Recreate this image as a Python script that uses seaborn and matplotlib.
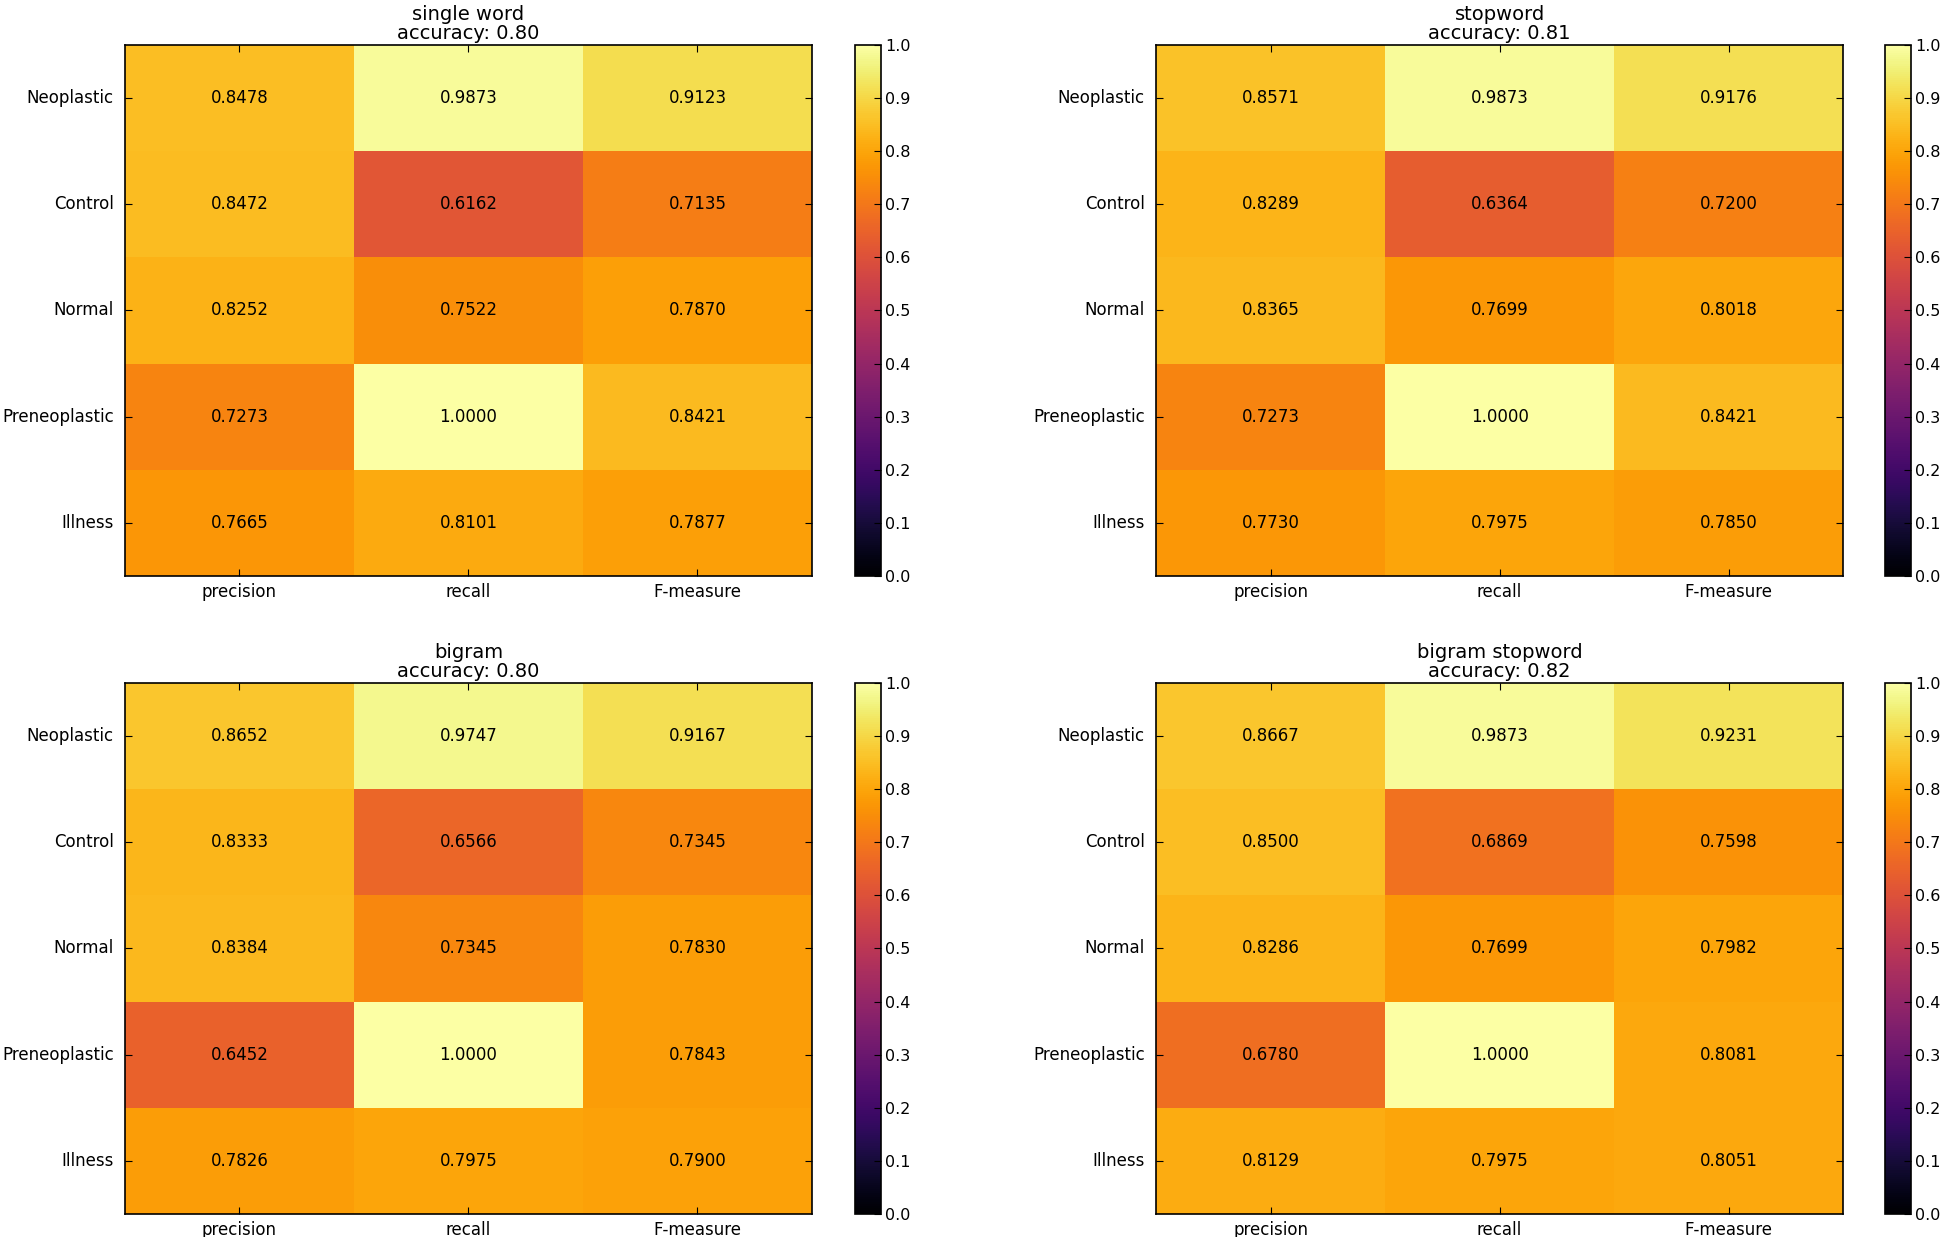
import numpy as np
import pandas as pd
import matplotlib
matplotlib.use("Agg")
import matplotlib.pyplot as plt
import seaborn as sns

# ==================================================
# DATA
# ==================================================

classes = ["Neoplastic", "Control", "Normal", "Preneoplastic", "Illness"]
metrics = ["precision", "recall", "F-measure"]

single_word = [
    [0.8478, 0.9873, 0.9123],
    [0.8472, 0.6162, 0.7135],
    [0.8252, 0.7522, 0.7870],
    [0.7273, 1.0000, 0.8421],
    [0.7665, 0.8101, 0.7877],
]

stopword = [
    [0.8571, 0.9873, 0.9176],
    [0.8289, 0.6364, 0.7200],
    [0.8365, 0.7699, 0.8018],
    [0.7273, 1.0000, 0.8421],
    [0.7730, 0.7975, 0.7850],
]

bigram = [
    [0.8652, 0.9747, 0.9167],
    [0.8333, 0.6566, 0.7345],
    [0.8384, 0.7345, 0.7830],
    [0.6452, 1.0000, 0.7843],
    [0.7826, 0.7975, 0.7900],
]

bigram_stopword = [
    [0.8667, 0.9873, 0.9231],
    [0.8500, 0.6869, 0.7598],
    [0.8286, 0.7699, 0.7982],
    [0.6780, 1.0000, 0.8081],
    [0.8129, 0.7975, 0.8051],
]

titles = ["single word", "stopword", "bigram", "bigram stopword"]
accuracies = [0.80, 0.81, 0.80, 0.82]
tables = [single_word, stopword, bigram, bigram_stopword]

# ==================================================
# LAYOUT (figure fractions)
# ==================================================

ax_w = 0.3536
ax_h = 0.4293
cb_w = 0.0134
lefts = [0.0643, 0.595, 0.0643, 0.595]
cb_lefts = [0.440, 0.970, 0.440, 0.970]
bottoms = [0.5344, 0.5344, 0.0186, 0.0186]

plt.rcParams["font.family"] = ["DejaVu Sans"]

fig = plt.figure(figsize=(19.43, 12.37), dpi=100)

for i in range(4):

    df = pd.DataFrame(tables[i], index=classes, columns=metrics)

    ax = fig.add_axes([lefts[i], bottoms[i], ax_w, ax_h])
    cax = fig.add_axes([cb_lefts[i], bottoms[i], cb_w, ax_h])

    sns.heatmap(
        df,
        ax=ax,
        cbar_ax=cax,
        cmap="inferno",
        vmin=0,
        vmax=1,
        annot=True,
        fmt=".4f",
        annot_kws={"color": "black", "fontsize": 12},
        cbar_kws={"ticks": np.arange(0, 1.01, 0.1)},
    )

    ax.set_title(
        f"{titles[i]}\naccuracy: {accuracies[i]:.2f}",
        fontsize=14,
        linespacing=1.0,
        pad=4,
    )
    ax.set_xlabel("")
    ax.set_ylabel("")

    for spine in ax.spines.values():
        spine.set_visible(True)
        spine.set_color("black")
        spine.set_linewidth(1.2)

    ax.tick_params(
        direction="in",
        top=True,
        right=True,
        length=5,
        labelsize=12,
    )
    ax.tick_params(axis="x", pad=5)
    ax.tick_params(axis="y", pad=8)
    ax.set_yticklabels(classes, rotation=0)
    ax.set_xticklabels(metrics, rotation=0)

    cb = ax.collections[0].colorbar
    cb.outline.set_visible(True)
    cb.outline.set_linewidth(1.2)
    cb.outline.set_edgecolor("black")
    cax.tick_params(direction="in", length=5, labelsize=11.5, pad=3)
    cax.set_yticklabels([f"{t:.1f}" for t in np.arange(0, 1.01, 0.1)])

fig.savefig("out.png", dpi=100)
